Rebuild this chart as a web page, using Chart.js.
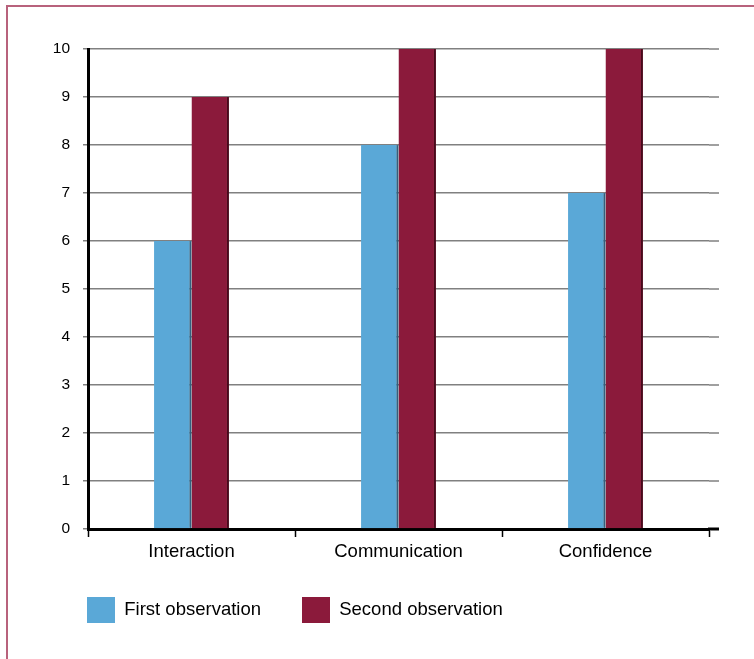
<!DOCTYPE html>
<html>
<head>
<meta charset="utf-8">
<script src="https://cdn.jsdelivr.net/npm/chart.js@4"></script>
<style>
  html, body { margin: 0; padding: 0; background: #fff; }
  #wrap { position: relative; width: 754px; height: 659px; overflow: hidden; }
  #frame { position: absolute; left: 6px; top: 5px; width: 800px; height: 700px;
           border-left: 2px solid #b8627c; border-top: 2px solid #b8627c; }
  canvas { position: absolute; left: 0; top: 0; }
</style>
</head>
<body>
<div id="wrap">
  <div id="frame"></div>
  <canvas id="c" width="754" height="659"></canvas>
</div>
<script>
const categories = ['Interaction', 'Communication', 'Confidence'];
const seriesLabels = ['First observation', 'Second observation'];
const firstObservation = [6, 8, 7];
const secondObservation = [9, 10, 10];
const yMin = 0;
const yMax = 10;
const yStep = 1;

const FONT = "'Liberation Sans', Arial, Helvetica, sans-serif";
const LEGEND_PAD = 41;
const LEGEND_BOX_TOP = 597;

const extendGrid = {
  id: 'extendGrid',
  beforeDraw(chart) {
    const lg = chart.legend;
    if (lg) {
      const h = lg.bottom - lg.top;
      lg.top = LEGEND_BOX_TOP - LEGEND_PAD;
      lg.bottom = lg.top + h;
    }
  },
  beforeDatasetsDraw(chart) {
    const ctx = chart.ctx;
    ctx.save();
    ctx.shadowColor = 'rgba(0,0,0,0.35)';
    ctx.shadowBlur = 2;
    ctx.shadowOffsetX = 2;
    ctx.shadowOffsetY = 0;
  },
  afterDatasetsDraw(chart) {
    chart.ctx.restore();
  },
  afterDraw(chart) {
    const { ctx, chartArea, scales } = chart;
    const y = scales.y;
    ctx.save();
    y.ticks.forEach(t => {
      const py = y.getPixelForValue(t.value);
      if (t.value === 0) {
        ctx.strokeStyle = '#000';
        ctx.lineWidth = 3;
        ctx.beginPath();
        ctx.moveTo(chartArea.right - 1, py);
        ctx.lineTo(chartArea.right + 10, py);
        ctx.stroke();
      } else {
        ctx.strokeStyle = '#808080';
        ctx.lineWidth = 1.5;
        ctx.beginPath();
        ctx.moveTo(chartArea.right, py);
        ctx.lineTo(chartArea.right + 10, py);
        ctx.stroke();
      }
    });
    ctx.restore();
  }
};

new Chart(document.getElementById('c'), {
  type: 'bar',
  data: {
    labels: categories,
    datasets: [
      {
        label: seriesLabels[0],
        data: firstObservation,
        backgroundColor: '#5aa8d7',
        borderColor: '#4a8fbb',
        borderWidth: { top: 0, right: 2, bottom: 0, left: 0 },
        borderSkipped: false
      },
      {
        label: seriesLabels[1],
        data: secondObservation,
        backgroundColor: '#8b1a3b',
        borderColor: '#6a1029',
        borderWidth: { top: 0, right: 2, bottom: 0, left: 0 },
        borderSkipped: false
      }
    ]
  },
  options: {
    responsive: false,
    animation: false,
    devicePixelRatio: 1,
    categoryPercentage: 0.362,
    barPercentage: 1,
    layout: { padding: { left: 46, right: 45, top: 49, bottom: 0 } },
    plugins: {
      title: { display: false },
      tooltip: { enabled: false },
      legend: {
        position: 'bottom',
        align: 'start',
        maxHeight: 103,
        labels: {
          boxWidth: 28,
          boxHeight: 26,
          padding: LEGEND_PAD,
          color: '#000',
          font: { family: FONT, size: 18.5 },
          generateLabels(chart) {
            return chart.data.datasets.map((ds, i) => ({
              text: ds.label,
              fillStyle: ds.backgroundColor,
              strokeStyle: ds.borderColor,
              lineWidth: 0,
              hidden: false,
              datasetIndex: i,
              fontColor: '#000'
            }));
          }
        }
      }
    },
    scales: {
      x: {
        afterFit(scale) { scale.height = 53; },
        grid: {
          offset: true,
          drawOnChartArea: false,
          drawTicks: true,
          tickLength: 8,
          tickColor: '#000',
          tickWidth: 1.5
        },
        border: { display: true, color: '#000', width: 3 },
        ticks: {
          color: '#000',
          padding: 4,
          font: { family: FONT, size: 18.5 }
        }
      },
      y: {
        min: yMin,
        max: yMax,
        afterFit(scale) { scale.width = 42; },
        ticks: {
          stepSize: yStep,
          color: '#000',
          padding: 13,
          font: { family: FONT, size: 15.5 }
        },
        grid: {
          color: '#808080',
          lineWidth: 1.5,
          tickLength: 5,
          drawTicks: true
        },
        border: { display: true, color: '#000', width: 3 }
      }
    }
  },
  plugins: [extendGrid]
});
</script>
</body>
</html>
